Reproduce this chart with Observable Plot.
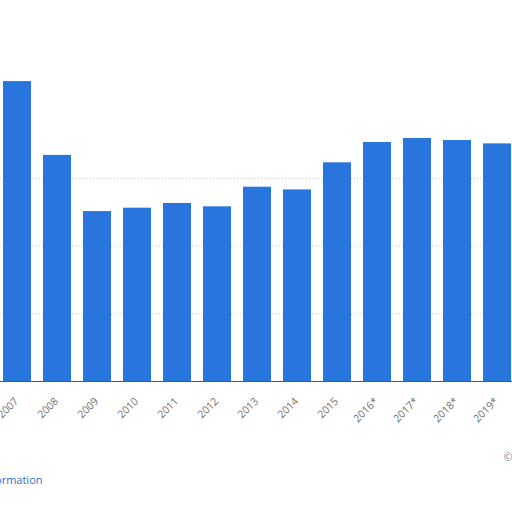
<!DOCTYPE html>
<html>
<head>
<meta charset="utf-8">
<script src="https://cdn.jsdelivr.net/npm/d3@7"></script>
<script src="https://cdn.jsdelivr.net/npm/@observablehq/plot@0.6"></script>
<style>
  html, body { margin: 0; padding: 0; background: #fff; overflow: hidden; }
  #chart svg { display: block; }
</style>
</head>
<body>
<div id="chart"></div>
<script>
const years = ["2007", "2008", "2009", "2010", "2011", "2012", "2013", "2014", "2015", "2016*", "2017*", "2018*", "2019*"];
const values = [4.43, 3.34, 2.51, 2.56, 2.63, 2.58, 2.87, 2.83, 3.23, 3.53, 3.59, 3.56, 3.51];
const gridValues = [1, 2, 3];
const sourceText = ["© Statista 2020"];
const infoText = ["Additional Information"];

const data = years.map((y, i) => ({year: y, value: values[i]}));

const chart = Plot.plot({
  width: 512,
  height: 512,
  marginLeft: 0, marginRight: 0, marginTop: 0, marginBottom: 0,
  style: {background: "#fff", fontFamily: "'Open Sans', sans-serif"},
  x: {type: "band", domain: years, range: [0, 514], paddingInner: 0.3, paddingOuter: 0.075, axis: null},
  y: {domain: [0, 5], range: [381, 42.5], axis: null},
  marks: [
    Plot.ruleY(gridValues, {y: d => d, stroke: "#c8c8c8", strokeDasharray: "1,2", strokeWidth: 1}),
    Plot.barY(data, {x: "year", y: "value", fill: "#2876dd"}),
    Plot.ruleY([0], {stroke: "#555", strokeWidth: 1}),
    Plot.text(years, {x: d => d, y: () => 0, text: d => d, rotate: -45, textAnchor: "end", lineAnchor: "middle", dx: -1, dy: 18, fontSize: 10.5, fill: "#707070"}),
    Plot.text(sourceText, {frameAnchor: "top-left", dx: 503, dy: 453, text: d => d, textAnchor: "start", fontSize: 11, fill: "#888"}),
    Plot.text(infoText, {frameAnchor: "top-left", dx: 42, dy: 476, text: d => d, textAnchor: "end", fontSize: 11, fill: "#2a6fc4"})
  ]
});
document.getElementById("chart").appendChild(chart);
</script>
</body>
</html>
